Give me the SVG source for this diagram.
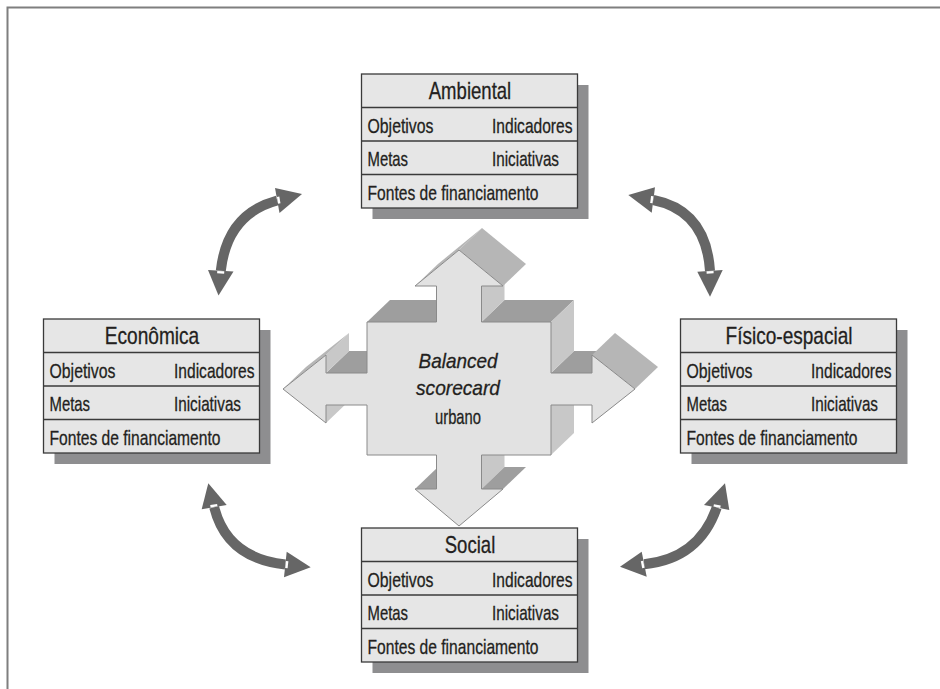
<svg xmlns="http://www.w3.org/2000/svg" width="940" height="689" viewBox="0 0 940 689">
  <defs>
    <style>
      .frame { fill: none; stroke: #7f7f7f; stroke-width: 2; }
      .shadow { fill: #8e8e90; }
      .card { fill: #e6e6e6; stroke: #3a3a3a; stroke-width: 1.3; }
      .rule { stroke: #3a3a3a; stroke-width: 1.3; }
      .title { font-family: "Liberation Sans", Arial, sans-serif; font-size: 24px; fill: #231f20; stroke: #231f20; stroke-width: 0.3; text-anchor: middle; }
      .item { font-family: "Liberation Sans", Arial, sans-serif; font-size: 21px; fill: #231f20; stroke: #231f20; stroke-width: 0.3; }
      .hub { font-family: "Liberation Sans", Arial, sans-serif; font-size: 21px; fill: #231f20; stroke: #231f20; stroke-width: 0.3; text-anchor: middle; }
      .face-front { fill: #e2e2e2; stroke: #8a8a8a; stroke-width: 1; stroke-linejoin: round; }
      .face-top { fill: #9e9e9e; }
      .face-side { fill: #c8c8c8; }
      .face-slant { fill: #b6b6b6; }
      .shaft { fill: none; stroke: #666666; stroke-width: 10; }
      .head { fill: #666666; }
      .notch { stroke: #ffffff; stroke-width: 2.4; }
    </style>

    <!-- one perspective card: title row plus three rows, drawn at the origin -->
    <g id="card">
      <rect class="shadow" x="11" y="11" width="216" height="134"/>
      <rect class="card" x="0" y="0" width="216" height="134"/>
      <line class="rule" x1="0" y1="33.5" x2="216" y2="33.5"/>
      <line class="rule" x1="0" y1="67" x2="216" y2="67"/>
      <line class="rule" x1="0" y1="100.5" x2="216" y2="100.5"/>
      <text class="item" x="6" y="58.5" textLength="66" lengthAdjust="spacingAndGlyphs">Objetivos</text>
      <text class="item" x="130.5" y="58.5" textLength="80.5" lengthAdjust="spacingAndGlyphs">Indicadores</text>
      <text class="item" x="6" y="92" textLength="40.5" lengthAdjust="spacingAndGlyphs">Metas</text>
      <text class="item" x="130.5" y="92" textLength="67" lengthAdjust="spacingAndGlyphs">Iniciativas</text>
      <text class="item" x="6" y="125.5" textLength="171" lengthAdjust="spacingAndGlyphs">Fontes de financiamento</text>
    </g>
  </defs>

  <!-- page frame (top and left rules) -->
  <path class="frame" d="M7.5,689 V7.5 H940"/>

  <!-- curved two-way connectors between neighbouring cards -->
  <g id="connectors">
    <g id="link-ambiental-economica">
      <path class="shaft" d="M277.2,200.5 Q227,214 220.8,270.8"/>
      <polygon class="head" points="302,194 275,188 279.5,213"/>
      <polygon class="head" points="218.5,295.5 208,270 233.5,271.5"/>
      <line class="notch" x1="278.1" y1="196.7" x2="279.3" y2="203.5"/>
      <line class="notch" x1="217.2" y1="272.1" x2="224.2" y2="272.5"/>
    </g>
    <g id="link-ambiental-fisico">
      <path class="shaft" d="M653.3,200 Q706,210.5 710,270.8"/>
      <polygon class="head" points="628.3,195 655,187.3 651.7,212.7"/>
      <polygon class="head" points="710,296.7 697.3,271.7 722.7,270"/>
      <line class="notch" x1="652.25" y1="196.2" x2="651.35" y2="203.2"/>
      <line class="notch" x1="706.6" y1="272.5" x2="713.6" y2="272.1"/>
    </g>
    <g id="link-economica-social">
      <path class="shaft" d="M214.2,507.2 Q226.9,558.1 285.3,564.5"/>
      <polygon class="head" points="208.3,483.3 201.7,509.3 226.7,505"/>
      <polygon class="head" points="310.7,567.3 286.7,551.7 284,577.3"/>
      <line class="notch" x1="210.4" y1="506.3" x2="217.3" y2="505.1"/>
      <line class="notch" x1="287.2" y1="561.2" x2="286.4" y2="568.2"/>
    </g>
    <g id="link-fisico-social">
      <path class="shaft" d="M716.7,507.5 Q699.1,558.5 644.2,564.2"/>
      <polygon class="head" points="725,483.3 704,505 729.3,510"/>
      <polygon class="head" points="620,566.7 641.7,551.7 646.7,576.7"/>
      <line class="notch" x1="713.7" y1="505.4" x2="720.5" y2="506.7"/>
      <line class="notch" x1="642" y1="561.1" x2="643.4" y2="567.9"/>
    </g>
  </g>

  <!-- central extruded four-way arrow -->
  <g id="hub">
    <!-- faces of the shafts and the square -->
    <polygon class="face-top" points="367,322 436.5,322 459.5,300 390,300"/>
    <polygon class="face-top" points="481.5,322 551,322 574,300 504.5,300"/>
    <polygon class="face-top" points="326,373 367,373 390,351 349,351"/>
    <polygon class="face-top" points="551,373 592,373 615,351 574,351"/>
    <polygon class="face-side" points="481.5,286 481.5,322 504.5,300 504.5,264"/>
    <polygon class="face-side" points="551,322 551,373 574,351 574,300"/>
    <polygon class="face-side" points="551,405 551,455 574,433 574,383"/>
    <polygon class="face-side" points="481.5,455 481.5,489 504.5,467 504.5,433"/>
    <!-- faces of the arrowheads -->
    <polygon class="face-top" points="415,489 436.5,489 459.5,467 438,467"/>
    <polygon class="face-top" points="481.5,489 503,489 526,467 504.5,467"/>
    <polygon class="face-side" points="326,355 326,373 349,351 349,333"/>
    <polygon class="face-side" points="326,405 326,423 349,401 349,383"/>
    <polygon class="face-slant" points="415,286 459,250 482,228 438,264"/>
    <polygon class="face-slant" points="459,250 503,286 526,264 482,228"/>
    <polygon class="face-slant" points="283,389 326,355 349,333 306,367"/>
    <polygon class="face-slant" points="592,355 635,389 658,367 615,333"/>
    <!-- front face -->
    <polygon class="face-front" points="459,250 503,286 481.5,286 481.5,322 551,322 551,373 592,373 592,355 635,389 592,423 592,405 551,405 551,455 481.5,455 481.5,489 503,489 459,526 415,489 436.5,489 436.5,455 367,455 367,405 326,405 326,423 283,389 326,355 326,373 367,373 367,322 436.5,322 436.5,286 415,286"/>
    <text class="hub" x="458" y="368" font-style="italic" textLength="79" lengthAdjust="spacingAndGlyphs">Balanced</text>
    <text class="hub" x="458" y="395" font-style="italic" textLength="84" lengthAdjust="spacingAndGlyphs">scorecard</text>
    <text class="hub" x="458" y="424" font-size="22" textLength="46" lengthAdjust="spacingAndGlyphs">urbano</text>
  </g>

  <!-- perspective cards -->
  <g id="ambiental" transform="translate(361.5,74)">
    <use href="#card"/>
    <text class="title" x="108.5" y="25" textLength="82.5" lengthAdjust="spacingAndGlyphs">Ambiental</text>
  </g>
  <g id="economica" transform="translate(43.5,319)">
    <use href="#card"/>
    <text class="title" x="108.5" y="25" textLength="94.5" lengthAdjust="spacingAndGlyphs">Econômica</text>
  </g>
  <g id="fisico-espacial" transform="translate(680.5,319)">
    <use href="#card"/>
    <text class="title" x="108.5" y="25" textLength="127" lengthAdjust="spacingAndGlyphs">Físico-espacial</text>
  </g>
  <g id="social" transform="translate(361.5,528)">
    <use href="#card"/>
    <text class="title" x="108.5" y="25" textLength="50.5" lengthAdjust="spacingAndGlyphs">Social</text>
  </g>
</svg>
